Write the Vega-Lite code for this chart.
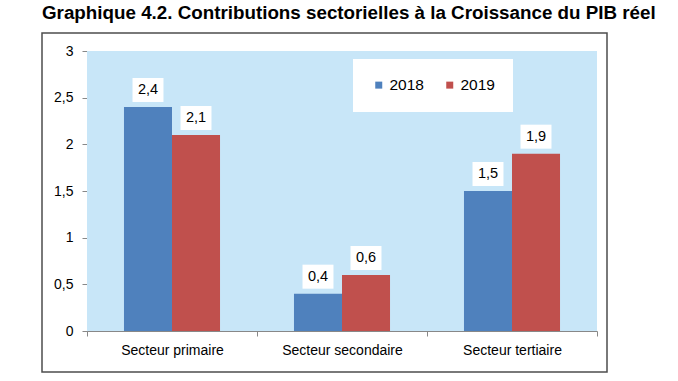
{
  "$schema": "https://vega.github.io/schema/vega-lite/v6.json",
  "width": 565,
  "height": 339,
  "autosize": {"type": "none"},
  "padding": {"left": 42, "top": 33, "right": 71, "bottom": 9},
  "background": "white",
  "title": {
    "text": "Graphique 4.2. Contributions sectorielles à la Croissance du PIB réel",
    "anchor": "start",
    "frame": "group",
    "font": "Liberation Sans",
    "fontSize": 18.8,
    "fontWeight": "bold",
    "color": "black",
    "offset": 10
  },
  "data": {
    "values": [
      {"secteur": "Secteur primaire", "annee": "2018", "valeur": 2.4, "etiquette": "2,4"},
      {"secteur": "Secteur primaire", "annee": "2019", "valeur": 2.1, "etiquette": "2,1"},
      {"secteur": "Secteur secondaire", "annee": "2018", "valeur": 0.4, "etiquette": "0,4"},
      {"secteur": "Secteur secondaire", "annee": "2019", "valeur": 0.6, "etiquette": "0,6"},
      {"secteur": "Secteur tertiaire", "annee": "2018", "valeur": 1.5, "etiquette": "1,5"},
      {"secteur": "Secteur tertiaire", "annee": "2019", "valeur": 1.9, "etiquette": "1,9"}
    ]
  },
  "encoding": {
    "x": {
      "field": "secteur",
      "type": "nominal",
      "sort": null,
      "title": null,
      "scale": {"range": [45, 555], "paddingInner": 0, "paddingOuter": 0},
      "axis": {
        "orient": "bottom",
        "offset": -41,
        "tickBand": "extent",
        "domainColor": "#888888",
        "tickColor": "#888888",
        "tickSize": 5,
        "labelFontSize": 14,
        "labelFont": "Liberation Sans",
        "labelColor": "black",
        "labelPadding": 7,
        "labelAngle": 0
      }
    }
  },
  "layer": [
    {
      "mark": {"type": "bar", "color": "#C8E6F8"},
      "encoding": {
        "y": {
          "datum": 3,
          "type": "quantitative",
          "title": null,
          "scale": {"domain": [0, 3], "range": [298, 18], "nice": false},
          "axis": {
            "orient": "left",
            "offset": -45,
            "values": [0, 0.5, 1, 1.5, 2, 2.5, 3],
            "labelExpr": "replace(toString(datum.value), '.', ',')",
            "grid": false,
            "domainColor": "#888888",
            "tickColor": "#888888",
            "tickSize": 5,
            "labelFontSize": 14,
            "labelFont": "Liberation Sans",
            "labelColor": "black",
            "labelPadding": 9
          }
        },
        "y2": {"datum": 0}
      }
    },
    {
      "mark": {"type": "bar"},
      "encoding": {
        "xOffset": {"field": "annee", "type": "nominal", "scale": {"paddingInner": 0, "paddingOuter": 0.77}},
        "y": {"field": "valeur", "type": "quantitative", "stack": null, "title": null},
        "color": {
          "field": "annee",
          "type": "nominal",
          "scale": {"domain": ["2018", "2019"], "range": ["#4F81BD", "#C0504D"]},
          "legend": {
            "title": null,
            "orient": "none",
            "legendX": 311,
            "legendY": 26,
            "direction": "horizontal",
            "fillColor": "white",
            "padding": 18,
            "symbolType": "square",
            "symbolSize": 49,
            "symbolStrokeWidth": 0,
            "symbolOpacity": 1,
            "labelFontSize": 15.5,
            "labelFont": "Liberation Sans",
            "labelColor": "black",
            "columnPadding": 18,
            "labelOffset": 3
          }
        }
      }
    },
    {
      "mark": {
        "type": "point",
        "shape": "M-1.29,-1H1.29V1H-1.29Z",
        "size": 576,
        "filled": true,
        "fill": "white",
        "opacity": 1,
        "strokeWidth": 0,
        "yOffset": -17
      },
      "encoding": {
        "xOffset": {"field": "annee", "type": "nominal"},
        "y": {"field": "valeur", "type": "quantitative", "stack": null}
      }
    },
    {
      "mark": {
        "type": "text",
        "yOffset": -17,
        "fontSize": 14.5,
        "font": "Liberation Sans",
        "color": "black",
        "baseline": "middle"
      },
      "encoding": {
        "xOffset": {"field": "annee", "type": "nominal"},
        "y": {"field": "valeur", "type": "quantitative", "stack": null},
        "text": {"field": "etiquette"}
      }
    }
  ],
  "config": {
    "view": {"stroke": "#4d4d4d", "strokeWidth": 1.5, "fill": "white"}
  }
}
